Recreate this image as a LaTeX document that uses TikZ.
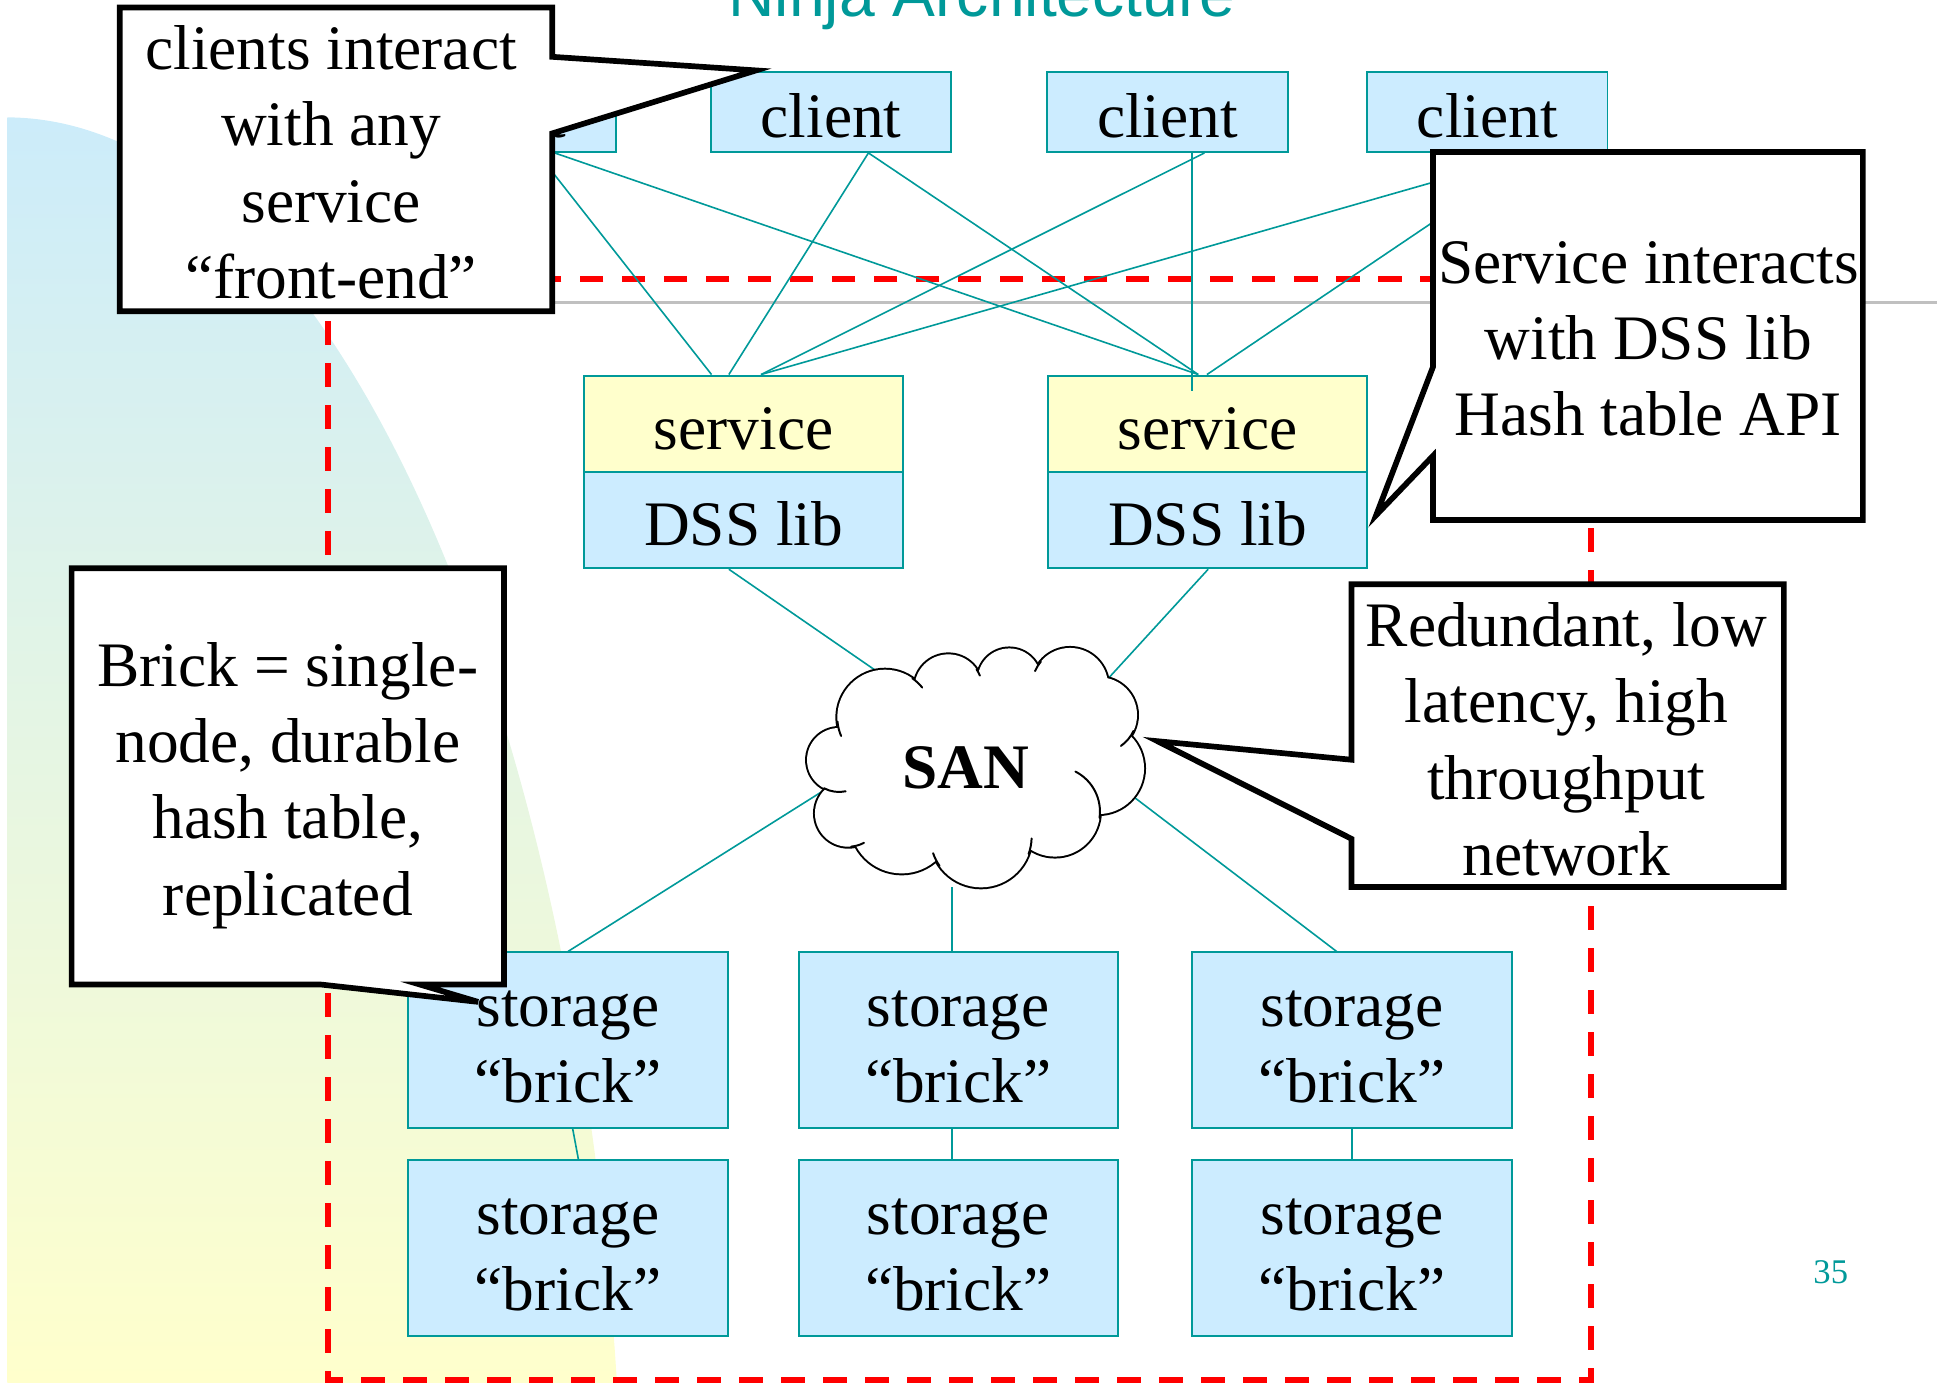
\documentclass[tikz,border=0pt]{standalone}
\usepackage{fontspec}
\setmainfont{Liberation Serif}
\newfontfamily\titlesans{Liberation Sans}
\usetikzlibrary{calc}

\definecolor{tealline}{RGB}{0,153,153}
\definecolor{boxblue}{RGB}{204,236,255}
\definecolor{boxyellow}{RGB}{255,255,204}
\definecolor{bgblue}{RGB}{204,236,250}
\definecolor{bgyellow}{RGB}{255,255,204}
\definecolor{rulegray}{RGB}{192,192,192}
\definecolor{dashred}{RGB}{255,0,0}

\newcommand\slidetext{\fontsize{51.3pt}{61.8pt}\selectfont}
\newcommand\tallstrut{\rule{0pt}{40.3pt}}

\begin{document}
\begin{tikzpicture}[x=1pt, y=-1pt,
  clientbox/.style={draw=tealline, line width=1.6pt, fill=boxblue,
    minimum width=194.5pt, minimum height=65pt, inner sep=0pt, font=\slidetext,
    text height=41pt, text depth=0pt},
  servbox/.style={draw=tealline, line width=1.6pt, fill=boxyellow,
    minimum width=258.5pt, minimum height=78pt, inner sep=0pt, font=\slidetext,
    text height=41pt, text depth=0pt},
  libbox/.style={servbox, fill=boxblue},
  brickbox/.style={draw=tealline, line width=1.6pt, fill=boxblue,
    minimum width=258.4pt, minimum height=142pt, inner sep=0pt,
    align=center, font=\slidetext},
  conn/.style={draw=tealline, line width=1.3pt},
  callout/.style={draw=black, fill=white, line width=4.6pt, miter limit=10},
  callouttext/.style={align=center, font=\slidetext, inner sep=0pt},
  cloudline/.style={line width=1.6pt, line cap=round}
]
\useasboundingbox (0,0) rectangle (1568,1119);

% shaded backdrop on the left
\begin{scope}
  \clip (6,95) rectangle (1568,1119);
  \clip (5,1300) ellipse [x radius=500pt, y radius=1205pt];
  \shade[top color=bgblue, bottom color=bgyellow] (6,95) rectangle (510,1119);
\end{scope}

% title
\node[anchor=base, font=\titlesans\fontsize{52pt}{60pt}\selectfont, text=tealline]
  (title) at (795,13) {Ninja Architecture};

% rule and dashed frame
\draw[rulegray, line width=2.2pt] (300,245) -- (1568,245);
\draw[dashred, line width=4.6pt, dash pattern=on 19pt off 15pt]
  (265.5,226) rectangle (1288,1117);

% clients
\node[clientbox] (c1) at (401.4,90.5) {client};
\node[clientbox] (c2) at (672.7,90.5) {client};
\node[clientbox] (c3) at (945,90.5) {client};
\node[clientbox] (c4) at (1204,90.5) {client};

% services with the DSS library
\node[servbox] (s1top) at (602,343) {service};
\node[libbox]  (s1lib) at (602,421) {DSS lib};
\node[servbox] (s2top) at (977.6,343) {service};
\node[libbox]  (s2lib) at (977.6,421) {DSS lib};

% storage bricks
\node[brickbox] (st1) at (459.8,842) {\tallstrut storage\\“brick”};
\node[brickbox] (st2) at (775.7,842) {\tallstrut storage\\“brick”};
\node[brickbox] (st3) at (1094.5,842) {\tallstrut storage\\“brick”};
\node[brickbox] (st4) at (459.8,1010.2) {\tallstrut storage\\“brick”};
\node[brickbox] (st5) at (775.7,1010.2) {\tallstrut storage\\“brick”};
\node[brickbox] (st6) at (1094.5,1010.2) {\tallstrut storage\\“brick”};

% client to service links
\draw[conn] ([xshift=33.6pt]c1.south) -- ([xshift=-26pt]s1top.north);
\draw[conn] ([xshift=47.6pt]c1.south) -- ([xshift=-7.6pt]s2top.north);
\draw[conn] ([xshift=30.3pt]c2.south) -- ([xshift=-12pt]s1top.north);
\draw[conn] ([xshift=30.3pt]c2.south) -- ([xshift=-7.6pt]s2top.north);
\draw[conn] ([xshift=30pt]c3.south) -- ([xshift=14pt]s1top.north);
\draw[conn] ([xshift=20pt]c3.south) -- ([xshift=-12.6pt,yshift=-13pt]s2top.north);
\draw[conn] ([xshift=39pt]c4.south) -- ([xshift=14pt]s1top.north);
\draw[conn] ([xshift=39pt]c4.south) -- ([xshift=-0.6pt]s2top.north);

% points where links meet the SAN cloud
\coordinate (sanNW) at (708.3,542.4);
\coordinate (sanNE) at (897.2,549.1);
\coordinate (sanSW) at (665.2,640.9);
\coordinate (sanS)  at (770.4,718.3);
\coordinate (sanSE) at (917.5,644.9);

\draw[conn] ([xshift=-12pt]s1lib.south) -- (sanNW);
\draw[conn] ([xshift=0.4pt]s2lib.south) -- (sanNE);
\draw[conn] (sanSW) -- (st1.north);
\draw[conn] (sanS) -- ([xshift=-5.3pt]st2.north);
\draw[conn] (sanSE) -- ([xshift=-12.5pt]st3.north);
\draw[conn] ([xshift=3.8pt]st1.south) -- ([xshift=8.4pt]st4.north);
\draw[conn] ([xshift=-5.3pt]st2.south) -- ([xshift=-5.3pt]st5.north);
\draw[conn] (st3.south) -- (st6.north);

% SAN cloud: outline of overlapping puffs
\def\puffs{716.4/580.7/38.6, 767.7/557.2/27.5, 817.0/550.5/25.6,
  866.2/555.3/30.8, 889.9/578.8/30.5, 889.1/622.0/37.0, 854.0/657.0/36.4,
  794.1/677.3/41.0, 729.9/665.2/41.8, 686.7/658.4/27.0, 679.2/615.2/25.9}
\foreach \px/\py/\pr in \puffs {
  \draw[line width=3.2pt] (\px,\py) circle [radius=\pr pt];
}
\fill[white] (716.4,580.7) -- (767.7,557.2) -- (817.0,550.5) -- (866.2,555.3)
  -- (889.9,578.8) -- (889.1,622.0) -- (854.0,657.0) -- (794.1,677.3)
  -- (729.9,665.2) -- (686.7,658.4) -- (679.2,615.2) -- cycle;
\foreach \px/\py/\pr in \puffs {
  \fill[white] (\px,\py) circle [radius=\pr pt];
}
% inner tails of the puffs
\foreach \px/\py/\pr/\aa/\ab in {716.4/580.7/38.6/55/38.7, 716.4/580.7/38.6/185/203,
  767.7/557.2/27.5/34/22, 866.2/555.3/30.8/140/157, 889.9/578.8/30.5/-25/-55,
  854.0/657.0/36.4/-8/63, 794.1/677.3/41.0/-20/-2, 794.1/677.3/41.0/215/199,
  686.7/658.4/27.0/-85/-62, 679.2/615.2/25.9/-118/-78} {
  \draw[cloudline] (\px,\py) ++(\aa:\pr pt) arc[start angle=\aa, end angle=\ab, radius=\pr pt];
}
\node[font=\slidetext\bfseries, inner sep=0pt] (san) at (782,621.5) {SAN};

% callouts
\draw[callout] (97,6) -- (447,6) -- (447,46) -- (612,57) -- (447,108)
  -- (447,252) -- (97,252) -- cycle;
\node[callouttext] (note1) at (268,131.3) {clients interact\\with any\\service\\“front-end”};

\draw[callout] (1160,123) -- (1508,123) -- (1508,421) -- (1160,421)
  -- (1160,369) -- (1114,417) -- (1160,297) -- cycle;
\node[callouttext] (note2) at (1334.4,274.2) {Service interacts\\with DSS lib\\Hash table API};

\draw[callout] (58,460) -- (408,460) -- (408,797) -- (340,797) -- (387,811)
  -- (260,797) -- (58,797) -- cycle;
\node[callouttext] (note3) at (233,635.8) {Brick = single-\\node, durable\\hash table,\\replicated};

\draw[callout] (1094,473) -- (1444,473) -- (1444,718) -- (1094,718)
  -- (1094,679) -- (937,600) -- (1094,615) -- cycle;
\node[callouttext] (note4) at (1268,598.5) {Redundant, low\\latency, high\\throughput\\network};

% slide number
\node[anchor=base, font=\fontsize{28pt}{34pt}\selectfont, text=tealline]
  (pagenum) at (1482,1039) {35};
\end{tikzpicture}
\end{document}
